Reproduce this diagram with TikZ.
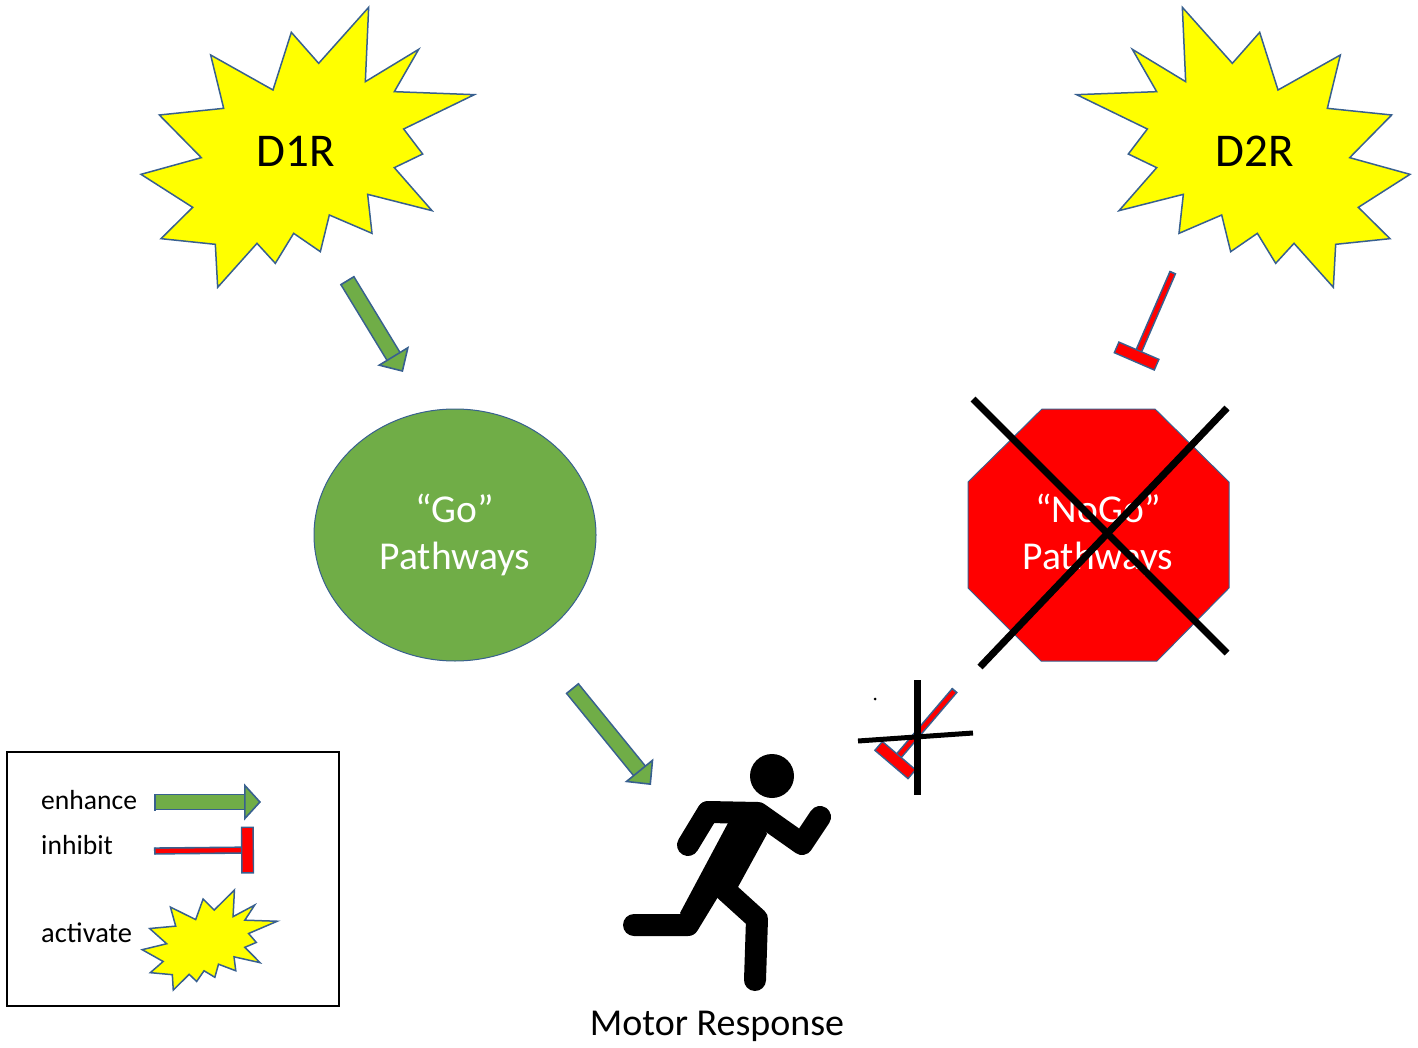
\documentclass[tikz,border=0pt]{standalone}
\usepackage{fontspec}
\setmainfont{Carlito}
\usetikzlibrary{arrows.meta,positioning,shapes.geometric}
\definecolor{rimblue}{HTML}{38608F}
\definecolor{gogreen}{HTML}{70AD47}
\definecolor{nogored}{HTML}{FF0000}
\definecolor{burstyellow}{HTML}{FFFF00}
\newcommand{\fs}[1]{\fontsize{#1}{#1}\selectfont}
\tikzset{
  burst/.pic={\draw[fill=burstyellow, draw=rimblue, line width=1.5pt, shift={(-497,-450)}]
    (715,22) -- (705,245) -- (865,148) -- (792,275) -- (1032,284) -- (820,387) -- (877,462) -- (792,503) -- (905,632) -- (712,583) -- (725,700) -- (597,645) -- (570,755) -- (490,700) -- (435,790) -- (380,730) -- (262,862) -- (255,733) -- (92,716) -- (187,622) -- (32,523) -- (213,473) -- (87,345) -- (280,325) -- (241,165) -- (428,270) -- (483,97) -- (565,190) -- cycle;},
  enhance/.style={draw=rimblue, line width=1.6pt, double=gogreen, double distance=13.5pt,
    {Rectangle[length=1.6pt, width=16.7pt, fill=rimblue]}-{Triangle[length=#1, width=37pt, fill=gogreen, color=rimblue, line width=1.6pt]}},
  inhibit/.style={draw=rimblue, line width=1.6pt, double=nogored, double distance=4.2pt,
    {Rectangle[length=1.6pt, width=7.4pt, fill=rimblue]}-{Rectangle[length=13pt, width=#1, fill=nogored, color=rimblue, line width=1.4pt]}},
  cross/.style={draw=black, line width=#1},
  limb/.style={line width=22pt, line cap=round, line join=round},
  txt/.style={font=\fs{#1}, align=center, inner sep=0pt}
}
\begin{document}
\begin{tikzpicture}[x=1pt, y=-1pt]
\useasboundingbox (0,0) rectangle (1418,1048);
\pic[scale=1/3] at (296,150) {burst};
\pic[xscale=-1/3, yscale=1/3] at (1255,150) {burst};
\node[txt=47] (d1r) at (296,151) {D1R};
\node[txt=47] (d2r) at (1255,151) {D2R};
\node[ellipse, minimum width=282pt, minimum height=252pt, inner sep=0pt, fill=gogreen, draw=rimblue, line width=1pt, font=\fs{39.5}, text=white, align=center] (go) at (455,535) {“Go”\\[7pt]Pathways};
\draw[fill=nogored, draw=rimblue, line width=1pt] (1042,409) -- (1155,409) -- (1229,482) -- (1229,588) -- (1157,661) -- (1041,661) -- (968,588) -- (968,482) -- cycle;
\node[txt=39.5, text=white] (nogo) at (1098,535) {“NoGo”\\[7pt]Pathways};
\coordinate (d1rout) at (347,280); \coordinate (goin) at (403,372);
\coordinate (goout) at (572,688); \coordinate (motorin) at (651,785);
\coordinate (d2rout) at (1173,272); \coordinate (nogoin) at (1134,362);
\coordinate (nogoout) at (955,690); \coordinate (motorstop) at (891,765);
\draw[enhance=19pt] (d1rout)--(goin);
\draw[enhance=19pt] (goout)--(motorin);
\draw[inhibit=45pt] (d2rout)--(nogoin);
\draw[inhibit=45pt] (nogoout)--(motorstop);
\coordinate (xa) at (973,399); \coordinate (xb) at (1227,653);
\coordinate (xc) at (1227,408); \coordinate (xd) at (980,667);
\draw[cross=7pt] (xa)--(xb); \draw[cross=7pt] (xc)--(xd);
\coordinate (ya) at (917,680); \coordinate (yb) at (917,795);
\coordinate (yc) at (858,741); \coordinate (yd) at (973,733);
\draw[cross=7pt] (ya)--(yb); \draw[cross=5pt] (yc)--(yd);
\fill (875,699) circle (1.5pt);
\fill (772,776) circle (22pt);
\draw[limb] (688,845) -- (708,812) -- (758,813) -- (802,844) -- (820,817);
\fill (728,815) -- (758,815) -- (767,834) -- (738,887) -- (715,895) -- (695,932) -- (680,913) -- (728,823) -- cycle;
\draw[limb] (634,925) -- (688,925) -- (730,856);
\draw[limb] (725,890) -- (757,919) -- (755,980);
\node[txt=38] (motor) at (717,1026) {Motor Response};
\draw[draw=black, line width=1.8pt] (7,752) rectangle (339,1006);
\node[txt=27.6, anchor=base west] (enh) at (41,809) {enhance};
\node[txt=27.6, anchor=base west] (inh) at (41,854) {inhibit};
\node[txt=28.5, anchor=base west] (act) at (41,942) {activate};
\coordinate (enhout) at (154,802); \coordinate (enhin) at (261,802);
\coordinate (inhout) at (154,851); \coordinate (inhin) at (254,850);
\draw[enhance=17pt] (enhout)--(enhin);
\draw[inhibit=47pt] (inhout)--(inhin);
\pic[xscale=.135, yscale=.119] at (205,941) {burst};
\end{tikzpicture}
\end{document}
